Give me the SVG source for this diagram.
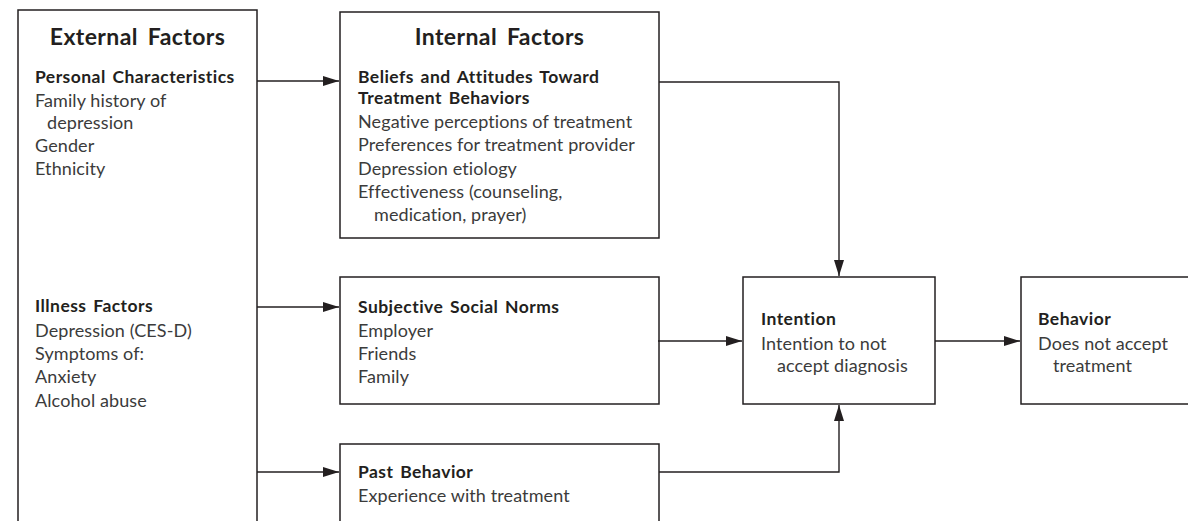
<svg xmlns="http://www.w3.org/2000/svg" width="1188" height="521" viewBox="0 0 1188 521">
<style>
.box{fill:#fff;stroke:#231f20;stroke-width:1.5}
.ln{fill:none;stroke:#231f20;stroke-width:1.4}
text{font-family:Lato,"Open Sans",sans-serif;font-size:18px;fill:#3b3b3b;letter-spacing:0.1px}
.b{font-weight:bold;font-size:17.5px;fill:#231f20;letter-spacing:0.45px;word-spacing:2px}
.t{font-weight:bold;font-size:23px;fill:#231f20;text-anchor:middle;letter-spacing:0.4px;word-spacing:4px}
</style>
<defs>
<marker id="ah" viewBox="0 0 16 10" refX="16" refY="5" markerWidth="16" markerHeight="10" markerUnits="userSpaceOnUse" orient="auto">
<path d="M0,0 L16,5 L0,10 Z" fill="#231f20"/>
</marker>
</defs>
<g id="external">
<rect class="box" x="18" y="10" width="239" height="530"/>
<text class="t" x="137.5" y="45">External Factors</text>
<text class="b" x="35" y="83">Personal Characteristics</text>
<text x="35" y="107">Family history of</text>
<text x="47" y="129">depression</text>
<text x="35" y="152">Gender</text>
<text x="35" y="175">Ethnicity</text>
<text class="b" x="35" y="312">Illness Factors</text>
<text x="35" y="337">Depression (CES-D)</text>
<text x="35" y="360">Symptoms of:</text>
<text x="35" y="383">Anxiety</text>
<text x="35" y="407">Alcohol abuse</text>
</g>
<g id="internal">
<rect class="box" x="340" y="12" width="319" height="226"/>
<text class="t" x="499.5" y="45">Internal Factors</text>
<text class="b" x="358" y="83">Beliefs and Attitudes Toward</text>
<text class="b" x="358" y="104">Treatment Behaviors</text>
<text x="358" y="128">Negative perceptions of treatment</text>
<text x="358" y="151">Preferences for treatment provider</text>
<text x="358" y="175">Depression etiology</text>
<text x="358" y="198">Effectiveness (counseling,</text>
<text x="374" y="221">medication, prayer)</text>
</g>
<g id="norms">
<rect class="box" x="340" y="277" width="319" height="127"/>
<text class="b" x="358" y="313">Subjective Social Norms</text>
<text x="358" y="337">Employer</text>
<text x="358" y="360">Friends</text>
<text x="358" y="383">Family</text>
</g>
<g id="past">
<rect class="box" x="340" y="444" width="319" height="100"/>
<text class="b" x="358" y="478">Past Behavior</text>
<text x="358" y="502">Experience with treatment</text>
</g>
<g id="intention">
<rect class="box" x="743" y="277" width="192" height="127"/>
<text class="b" x="761" y="325">Intention</text>
<text x="761" y="350">Intention to not</text>
<text x="777" y="372">accept diagnosis</text>
</g>
<g id="behavior">
<rect class="box" x="1021" y="277" width="200" height="127"/>
<text class="b" x="1038" y="325">Behavior</text>
<text x="1038" y="350">Does not accept</text>
<text x="1053" y="372">treatment</text>
</g>
<g id="connectors">
<line class="ln" x1="257" y1="81" x2="339" y2="81" marker-end="url(#ah)"/>
<line class="ln" x1="257" y1="307" x2="339" y2="307" marker-end="url(#ah)"/>
<line class="ln" x1="257" y1="472" x2="339" y2="472" marker-end="url(#ah)"/>
<polyline class="ln" points="659,82 839,82 839,276" marker-end="url(#ah)"/>
<polyline class="ln" points="659,472 839,472 839,405" marker-end="url(#ah)"/>
<line class="ln" x1="658" y1="341" x2="742" y2="341" marker-end="url(#ah)"/>
<line class="ln" x1="935" y1="341" x2="1020" y2="341" marker-end="url(#ah)"/>
</g>
</svg>
